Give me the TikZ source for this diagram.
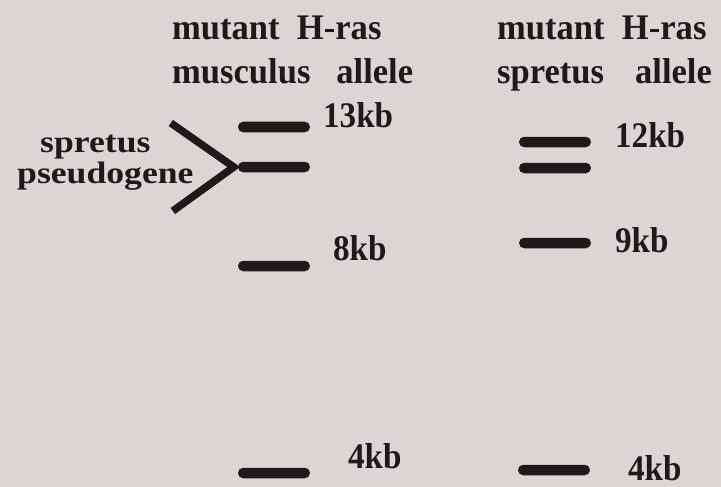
\documentclass[tikz,border=0pt]{standalone}
\usepackage{fontspec}
\setmainfont{Liberation Serif}
\usepackage{xcolor}
\usetikzlibrary{positioning}

\definecolor{paper}{RGB}{218,214,211}
\definecolor{ink}{RGB}{28,26,26}

\begin{document}
\begin{tikzpicture}[
  x=1pt, y=-1pt,
  band/.style={rectangle, fill=ink, inner sep=0pt,
    minimum width=72pt, minimum height=10.5pt, rounded corners=5.2pt},
  title/.style={anchor=base west, inner sep=0pt, text=ink, xscale=0.96,
    font=\fontsize{36}{40}\selectfont\bfseries},
  size/.style={anchor=base west, inner sep=0pt, text=ink, xscale=0.92,
    font=\fontsize{36}{40}\selectfont\bfseries},
  note/.style={anchor=base west, inner sep=0pt, text=ink, xscale=1.15,
    font=\fontsize{31}{32}\selectfont\bfseries},
  chevron/.style={draw=ink, line width=7.5pt, line cap=butt, line join=miter},
]
\fill[paper] (0,0) rectangle (721,487);
\useasboundingbox (0,0) rectangle (721,487);

% column titles
\node[title] (musA) at (172,40) {mutant\hspace{0.5em}H-ras};
\node[title] (musB) at (172,84) {musculus\hspace{0.75em}allele};
\node[title] (sprA) at (497,40) {mutant\hspace{0.5em}H-ras};
\node[title] (sprB) at (497,84) {spretus\hspace{0.9em}allele};

% musculus lane
\node[band] (m13) at (274,127) {};
\node[band] (mps) at (274,167) {};
\node[band] (m8) at (274,266) {};
\node[band] (m4) at (274,473) {};

% spretus lane
\node[band] (s12) at (555,142) {};
\node[band] (s12b) at (555,168) {};
\node[band] (s9) at (555,243) {};
\node[band] (s4) at (554,470) {};

% sizes
\node[size] (l13) at (323,128) {13kb};
\node[size] (l8) at (333,260) {8kb};
\node[size] (l4m) at (348,468) {4kb};
\node[size] (l12) at (615,147) {12kb};
\node[size] (l9) at (615,252) {9kb};
\node[size] (l4s) at (628,480) {4kb};

% pseudogene mark
\node[note] (ps1) at (40,152) {spretus};
\node[note] (ps2) at (17,183) {pseudogene};
\coordinate (tip) at ([xshift=-4pt]mps.west);
\draw[chevron] ([shift={(-63,-44)}]tip) -- (tip) -- ([shift={(-61,44)}]tip);

\end{tikzpicture}
\end{document}
